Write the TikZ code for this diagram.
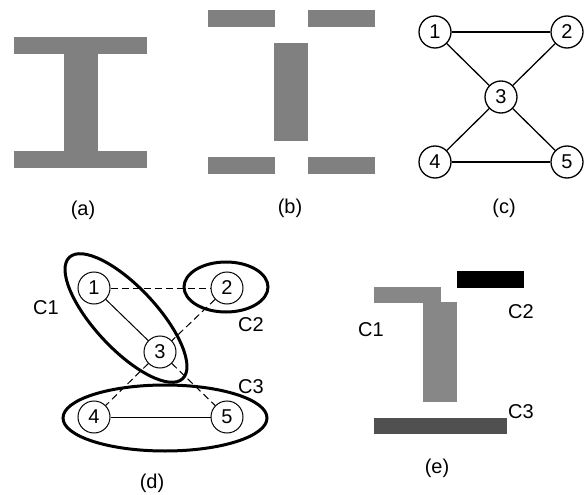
\documentclass[tikz,border=0pt]{standalone}
\usepackage{fontspec}
\setmainfont{Liberation Sans}
\definecolor{barg}{HTML}{808080}
\definecolor{cone}{HTML}{878787}
\definecolor{cthree}{HTML}{505050}
\begin{document}
\begin{tikzpicture}[x=1pt,y=-1pt, font=\fontsize{20}{22}\selectfont,
  bar/.style={fill=barg, draw=none},
  vtx/.style={circle, draw, line width=1.3pt, minimum size=32pt, inner sep=0pt},
  vtxd/.style={circle, draw, line width=1pt, minimum size=32pt, inner sep=0pt},
  edge/.style={line width=1.3pt},
  dedge/.style={line width=1pt, dash pattern=on 7pt off 4pt},
  clus/.style={line width=3pt}]
\useasboundingbox (0,0) rectangle (587,495);
% (a)
\fill[bar] (14,37) rectangle (147,54);
\fill[bar] (64,53) rectangle (98,152);
\fill[bar] (14,151) rectangle (147,168);
\node (la) at (83,210) {(a)};
% (b)
\fill[bar] (208,10) rectangle (275,27);
\fill[bar] (308,10) rectangle (375,27);
\fill[bar] (274,43) rectangle (308,141);
\fill[bar] (208,157) rectangle (275,174);
\fill[bar] (308,157) rectangle (375,174);
\node (lb) at (290,208) {(b)};
% (c)
\node[vtx] (c1) at (435,32) {1};
\node[vtx] (c2) at (567,32) {2};
\node[vtx] (c3) at (501,97) {3};
\node[vtx] (c4) at (435,162) {4};
\node[vtx] (c5) at (567,162) {5};
\draw[edge] (c1) -- (c2);
\draw[edge] (c1) -- (c3);
\draw[edge] (c2) -- (c3);
\draw[edge] (c3) -- (c4);
\draw[edge] (c3) -- (c5);
\draw[edge] (c4) -- (c5);
\node (lc) at (504,208) {(c)};
% (d)
\node[vtxd] (d1) at (94,288) {1};
\node[vtxd] (d2) at (227,288) {2};
\node[vtxd] (d3) at (160,352) {3};
\node[vtxd] (d4) at (94,417) {4};
\node[vtxd] (d5) at (227,417) {5};
\draw[dedge] (d1) -- (d2);
\draw[dedge] (d2) -- (d3);
\draw[dedge] (d3) -- (d4);
\draw[dedge] (d3) -- (d5);
\draw[line width=1pt] (d1) -- (d3);
\draw[line width=1pt] (d4) -- (d5);
\draw[clus] (126,318) ellipse [x radius=83pt, y radius=31pt, rotate=-47];
\draw[clus] (226,287) ellipse [x radius=42pt, y radius=25pt];
\draw[clus] (165,418) ellipse [x radius=102pt, y radius=33pt];
\node (dC1) at (46,308) {C1};
\node (dC2) at (251,325) {C2};
\node (dC3) at (251,387) {C3};
\node (ld) at (152,483) {(d)};
% (e)
\fill[cone] (374,287) rectangle (441,303);
\fill[cone] (423,302) rectangle (457,402);
\fill[black] (457,271) rectangle (524,288);
\fill[cthree] (374,418) rectangle (507,434);
\node (eC1) at (371,330) {C1};
\node (eC2) at (521,312) {C2};
\node (eC3) at (521,412) {C3};
\node (le) at (437,468) {(e)};
\end{tikzpicture}
\end{document}
